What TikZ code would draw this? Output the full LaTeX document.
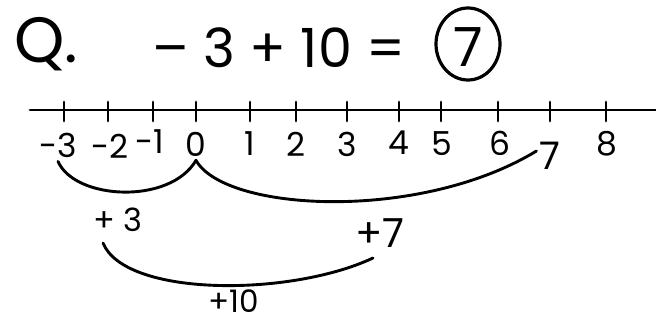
\documentclass[tikz,border=0pt]{standalone}
\usepackage{fontspec}
\setmainfont{Poppins}
\usetikzlibrary{shapes.geometric}
\begin{document}
\begin{tikzpicture}[x=1pt,y=-1pt,
  ink/.style={line width=2.9pt,line cap=round,line join=round,black},
  big/.style={font=\fontsize{54}{58}\selectfont,inner sep=0pt},
  num/.style={font=\fontsize{33}{35}\selectfont,inner sep=0pt},
  lab/.style={font=\fontsize{32}{34}\selectfont,inner sep=0pt}]
\useasboundingbox (0,0) rectangle (656,322);
% header
\node[big,font=\fontsize{64}{66}\selectfont] (q) at (46,44) {Q.};
\node[big] (eq) at (279,48) {– 3 + 10 =};
\node[big] (ans) at (468,47) {7};
\node[ink,draw,line width=3.2pt,ellipse,minimum width=64pt,minimum height=72pt] (ring) at (468,44) {};
% number line
\draw[ink] (30,110) coordinate (ls) -- (656,110) coordinate (le);
\foreach \v/\x in {m3/64,m2/108,m1/153,0/196,1/250,2/296,3/347,4/399,5/441,6/498,7/550,8/606}{
  \coordinate (t\v) at (\x,110);
  \draw[ink] (\x,102) -- (\x,121);
}
\node[num] (lm3) at (58,145) {-3};
\node[num] (lm2) at (110,146) {-2};
\node[num] (lm1) at (150,142) {-1};
\node[num] (l0) at (196,144) {0};
\node[num] (l1) at (250,144) {1};
\node[num] (l2) at (296,144) {2};
\node[num] (l3) at (347,144) {3};
\node[num] (l4) at (399,143) {4};
\node[num] (l5) at (442,144) {5};
\node[num] (l6) at (500,143) {6};
\node[num,font=\fontsize{38}{40}\selectfont] (l7) at (550,156) {7};
\node[num] (l8) at (607,144) {8};
% jumps
\draw[ink] ([yshift=-4pt]lm3.south) .. controls (75,200) and (170,205) .. ([yshift=-4pt]l0.south);
\draw[ink] ([yshift=-4pt]l0.south) .. controls (225,212) and (420,222) .. ([shift={(-3,-5)}]l7.west);
% jump labels
\node[lab] (p3) at (118,220) {+ 3};
\node[lab,font=\fontsize{40}{42}\selectfont] (p7) at (380,233) {+7};
\coordinate (a) at (103,243);
\coordinate (b) at (373,258);
\draw[ink] (a) .. controls (125,297) and (290,297) .. (b);
\node[lab,font=\fontsize{31}{33}\selectfont] (p10) at (234,301) {+10};
\end{tikzpicture}
\end{document}
